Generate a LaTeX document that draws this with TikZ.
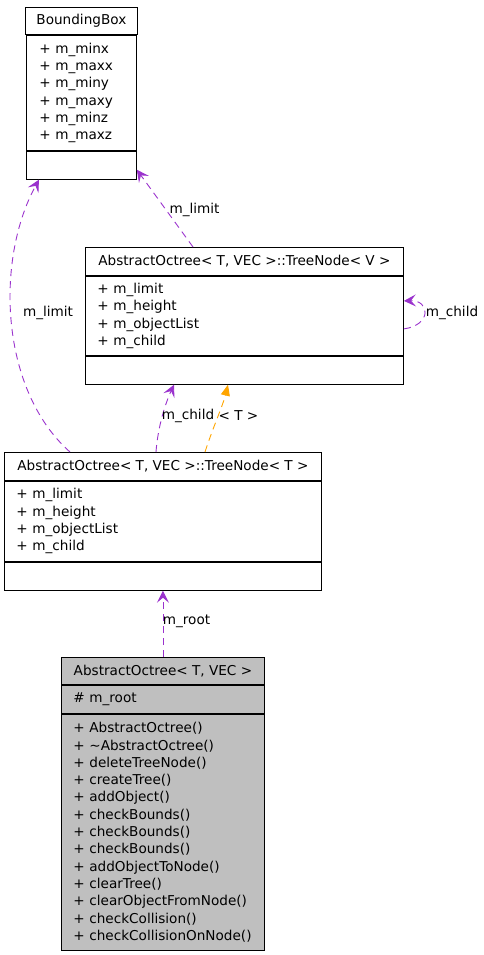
\documentclass[tikz,border=0pt]{standalone}
\usepackage{fontspec}
\setmainfont{DejaVu Sans}
\usetikzlibrary{positioning,arrows.meta}
\definecolor{usecolor}{HTML}{9A32CD}
\definecolor{tplcolor}{HTML}{FFA500}
\definecolor{curcolor}{HTML}{BFBFBF}
\begin{document}
\begin{tikzpicture}[
    x=1pt, y=-1pt,
    node distance=0pt,
    part/.style={draw, line width=0.9pt, inner xsep=11pt, inner ysep=0pt, font=\fontsize{13.6}{17.3}\selectfont},
    members/.style={part, align=left},
    uses/.style={usecolor, line width=0.9pt, dash pattern=on 7pt off 5pt, -{Stealth[length=12pt, width=12pt, inset=5pt]}},
    inst/.style={tplcolor, line width=0.9pt, dash pattern=on 7pt off 5pt, -{Triangle[length=11pt, width=9pt]}},
    lbl/.style={font=\fontsize{13.6}{15}\selectfont, inner sep=0pt}
]
\useasboundingbox (0,0) rectangle (483,955);

% BoundingBox (top left)
\node[part, anchor=north west, minimum width=110, minimum height=27] (bbtitle) at (25,7) {BoundingBox};
\node[members, below=of bbtitle, minimum width=110, minimum height=115, text width=84] (bbattrs)
  {+ m\_minx\\+ m\_maxx\\+ m\_miny\\+ m\_maxy\\+ m\_minz\\+ m\_maxz};
\node[part, below=of bbattrs, minimum width=110, minimum height=28] (bbmethods) {};

% TreeNode< V > (middle right)
\node[part, anchor=north west, minimum width=318, minimum height=28] (tnvtitle) at (85,247)
  {AbstractOctree< T, VEC >::TreeNode< V >};
\node[members, below=of tnvtitle, minimum width=318, minimum height=79, text width=294] (tnvattrs)
  {+ m\_limit\\+ m\_height\\+ m\_objectList\\+ m\_child};
\node[part, below=of tnvattrs, minimum width=318, minimum height=28] (tnvmethods) {};

% TreeNode< T > (middle left)
\node[part, anchor=north west, minimum width=317, minimum height=28] (tnttitle) at (4,452)
  {AbstractOctree< T, VEC >::TreeNode< T >};
\node[members, below=of tnttitle, minimum width=317, minimum height=80, text width=293] (tntattrs)
  {+ m\_limit\\+ m\_height\\+ m\_objectList\\+ m\_child};
\node[part, below=of tntattrs, minimum width=317, minimum height=28] (tntmethods) {};

% AbstractOctree< T, VEC > (bottom, the documented class)
\node[part, fill=curcolor, anchor=north west, minimum width=203, minimum height=27] (aotitle) at (61,657)
  {AbstractOctree< T, VEC >};
\node[members, fill=curcolor, below=of aotitle, minimum width=203, minimum height=28, text width=179] (aoattrs)
  {\# m\_root};
\node[members, fill=curcolor, below=of aoattrs, minimum width=203, minimum height=236, text width=179] (aomethods)
  {+ AbstractOctree()\\+ \textasciitilde AbstractOctree()\\+ deleteTreeNode()\\+ createTree()\\+ addObject()\\
   + checkBounds()\\+ checkBounds()\\+ checkBounds()\\+ addObjectToNode()\\+ clearTree()\\
   + clearObjectFromNode()\\+ checkCollision()\\+ checkCollisionOnNode()};

% usage and template connectors
\draw[uses] ([xshift=108pt]tnvtitle.north west) -- ([yshift=10pt]bbmethods.south east);
\node[lbl] (limitv) at (194.5,210) {m\_limit};

\draw[uses] ([xshift=66pt]tnttitle.north west) .. controls (0,390) and (-5,260) .. ([xshift=13pt]bbmethods.south west);
\node[lbl] (limitt) at (48,313) {m\_limit};

\draw[uses] ([xshift=152pt]tnttitle.north west) .. controls (158,425) and (166,402) .. ([xshift=89pt]tnvmethods.south west);
\node[lbl] (childt) at (188,416) {m\_child};

\draw[inst] ([xshift=201pt]tnttitle.north west) .. controls (212,430) and (223,405) .. ([xshift=143pt]tnvmethods.south west);
\node[lbl] (tplt) at (238.5,416) {< T >};

\draw[uses] ([yshift=-53pt]tnvattrs.north east) .. controls (432,325) and (430,300) .. ([yshift=-25pt]tnvattrs.north east);
\node[lbl] (childv) at (452,313) {m\_child};

\draw[uses] (aotitle.north) -- (tntmethods.south);
\node[lbl] (root) at (186.5,621) {m\_root};

\end{tikzpicture}
\end{document}
